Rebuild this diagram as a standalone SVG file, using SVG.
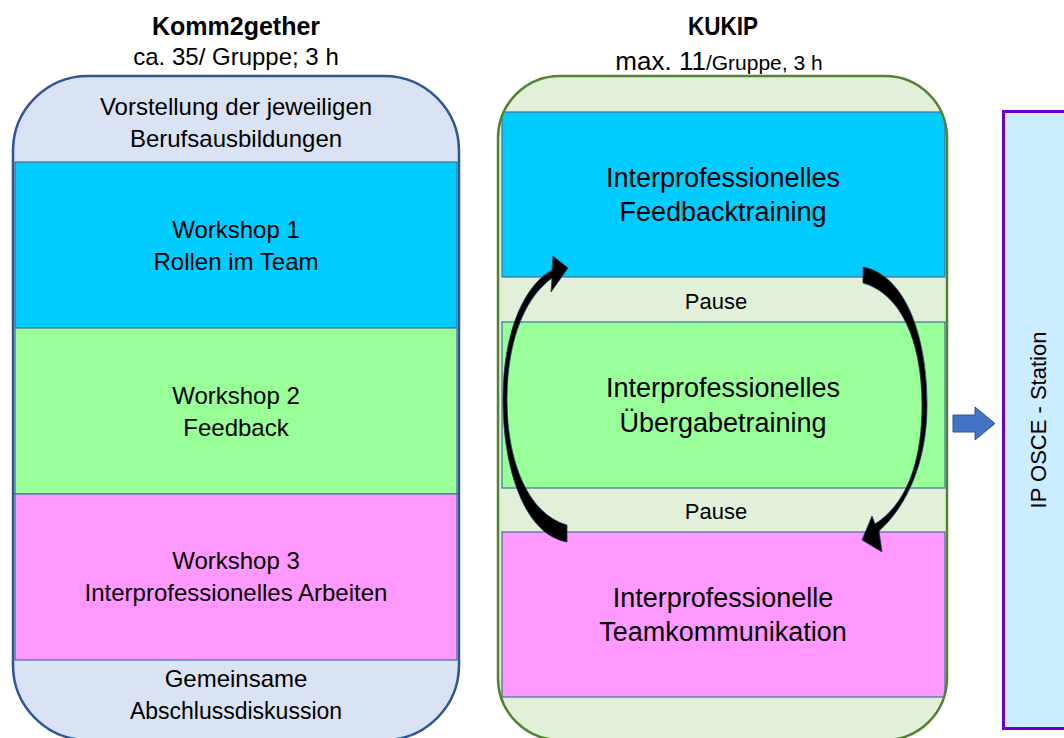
<svg xmlns="http://www.w3.org/2000/svg" width="1064" height="738" viewBox="0 0 1064 738">
<style>
text{font-family:"Liberation Sans",Arial,sans-serif;fill:#000;text-anchor:middle}
.t{font-size:24px}
.r{font-size:27px}
.p{font-size:22px}
.h{font-size:25px;font-weight:bold}
.band{stroke:#41719C;stroke-width:1.2}
.cy{fill:#00CCFF}.gr{fill:#99FF99}.pk{fill:#FF99FF}
.curv{fill:#000;stroke:#1F3864;stroke-width:0.8}
</style>
<defs>
<clipPath id="rc"><rect x="498" y="76" width="449" height="664" rx="62"/></clipPath>
</defs>
<rect width="1064" height="738" fill="#fff"/>

<g id="title-left">
<text class="h" x="236" y="35">Komm2gether</text>
<text class="t" x="236" y="65">ca. 35/ Gruppe; 3 h</text>
</g>
<g id="title-right">
<text class="h" x="723" y="35" textLength="70" lengthAdjust="spacingAndGlyphs">KUKIP</text>
<text x="719" y="70"><tspan font-size="26">max. 11</tspan><tspan font-size="21">/Gruppe, 3 h</tspan></text>
</g>

<g id="komm2gether">
<rect x="13" y="76" width="446" height="664" rx="75" fill="#DAE3F3"/>
<g id="k-intro"><text class="t" x="236" y="115">Vorstellung der jeweiligen</text><text class="t" x="236" y="147">Berufsausbildungen</text></g>
<g id="k-ws1"><rect class="band cy" x="15" y="162" width="442" height="166"/><text class="t" x="236" y="238">Workshop 1</text><text class="t" x="236" y="270">Rollen im Team</text></g>
<g id="k-ws2"><rect class="band gr" x="15" y="328" width="442" height="166"/><text class="t" x="236" y="404">Workshop 2</text><text class="t" x="236" y="436">Feedback</text></g>
<g id="k-ws3"><rect class="band pk" x="15" y="494" width="442" height="166"/><text class="t" x="236" y="569">Workshop 3</text><text class="t" x="236" y="601">Interprofessionelles Arbeiten</text></g>
<g id="k-end"><text class="t" x="236" y="687" font-size="23">Gemeinsame</text><text class="t" x="236" y="719" style="font-size:23px">Abschlussdiskussion</text></g>
<rect x="13" y="76" width="446" height="664" rx="75" fill="none" stroke="#2F5597" stroke-width="2.5"/>
</g>

<g id="kukip">
<rect x="498" y="76" width="449" height="664" rx="62" fill="#E2F0D9"/>
<g clip-path="url(#rc)">
<g id="u-feedback"><rect class="band cy" x="502" y="112" width="443" height="165"/></g>
<g id="u-uebergabe"><rect class="band gr" x="502" y="322" width="443" height="166"/></g>
<g id="u-team"><rect class="band pk" x="502" y="532" width="443" height="165"/></g>
</g>
<text class="r" x="723" y="187">Interprofessionelles</text><text class="r" x="723" y="221">Feedbacktraining</text>
<g id="pause1"><text class="p" x="716" y="309">Pause</text></g>
<text class="r" x="723" y="397">Interprofessionelles</text><text class="r" x="723" y="432">Übergabetraining</text>
<g id="pause2"><text class="p" x="716" y="519">Pause</text></g>
<text class="r" x="723" y="607">Interprofessionelle</text><text class="r" x="723" y="641">Teamkommunikation</text>
<rect x="498" y="76" width="449" height="664" rx="62" fill="none" stroke="#548235" stroke-width="2.5"/>
</g>

<g id="osce">
<rect x="1003.5" y="111.5" width="70" height="617" fill="#CCECFF" stroke="#6600CC" stroke-width="3"/>
<text class="p" transform="translate(1046 420) rotate(-90)" x="0" y="0">IP OSCE - Station</text>
</g>

<g id="connectors">
<path class="curv" d="M567 542 C525 535 503 470 503 400 C503 330 525 285 552 270 L553 256 L568 268 L551 292 L552 278 C528 295 507 335 507 400 C507 465 530 515 567 525 Z"/>
<path class="curv" d="M863 267 C905 275 927 335 927 405 C927 465 905 508 879 531 L882 552 L862 540 L872 516 L875 524 C905 505 922 465 922 405 C922 340 900 293 863 283 Z"/>
<path d="M953 415 L975 415 L975 407 L995 423.5 L975 440 L975 432 L953 432 Z" fill="#4472C4" stroke="#2F5597" stroke-width="1"/>
</g>
</svg>
